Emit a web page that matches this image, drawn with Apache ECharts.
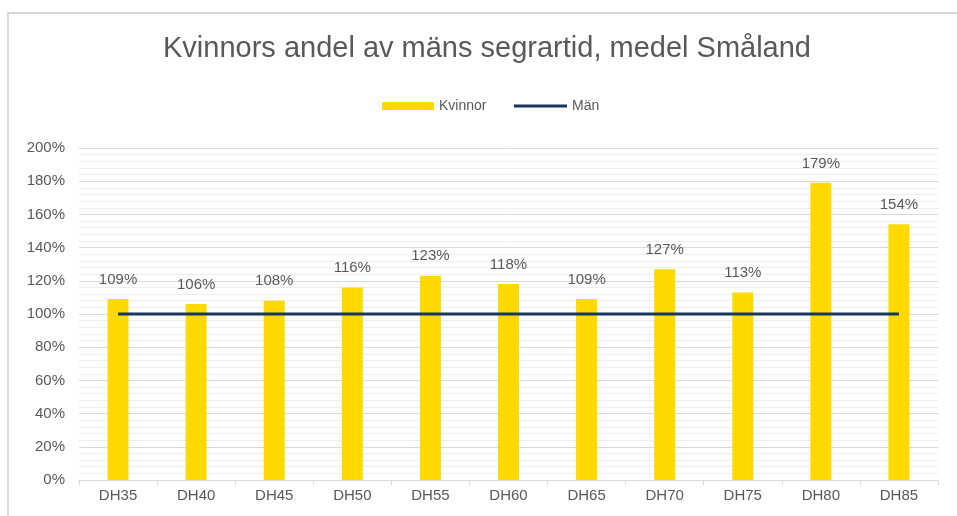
<!DOCTYPE html>
<html>
<head>
<meta charset="utf-8">
<script src="https://cdn.jsdelivr.net/npm/echarts@6/dist/echarts.min.js"></script>
<style>
  html, body { margin: 0; padding: 0; background: #fff; }
  #chart { width: 957px; height: 516px; }
  #frame { position: absolute; left: 7px; top: 12px; right: 0; bottom: 0;
           border-left: 2px solid #d9d9d9; border-top: 2px solid #d9d9d9; pointer-events: none; }
</style>
</head>
<body>
<div id="chart"></div>
<div id="frame"></div>
<script>
const categories = ['DH35', 'DH40', 'DH45', 'DH50', 'DH55', 'DH60', 'DH65', 'DH70', 'DH75', 'DH80', 'DH85'];
const kvinnor = [109, 106, 108, 116, 123, 118, 109, 127, 113, 179, 154];
const man = [100, 100, 100, 100, 100, 100, 100, 100, 100, 100, 100];

const font = '"Liberation Sans", Arial, sans-serif';
const textColor = '#595959';
const manColor = '#17375e';

const chart = echarts.init(document.getElementById('chart'));
chart.setOption({
  animation: false,
  textStyle: { fontFamily: font },
  title: {
    text: 'Kvinnors andel av mäns segrartid, medel Småland',
    left: 158,
    top: 29,
    textStyle: { fontSize: 29, fontWeight: 'normal', color: textColor, fontFamily: font }
  },
  // two legends so the line icon can be thinner than the bar icon
  legend: [
    {
      left: 377,
      top: 94,
      itemWidth: 52,
      itemHeight: 8,
      itemGap: 0,
      textStyle: { fontSize: 14, color: textColor },
      data: [{ name: 'Kvinnor', icon: 'rect' }]
    },
    {
      left: 509,
      top: 94,
      itemWidth: 53,
      itemHeight: 3,
      textStyle: { fontSize: 14, color: textColor },
      data: [{ name: 'Män', icon: 'rect', itemStyle: { color: manColor } }]
    }
  ],
  grid: { left: 79, right: 19, top: 148, bottom: 36 },
  xAxis: {
    type: 'category',
    data: categories,
    axisLine: { lineStyle: { color: '#d9d9d9', width: 1 } },
    axisTick: { show: true, length: 5, lineStyle: { color: '#d9d9d9' } },
    axisLabel: { color: textColor, fontSize: 15, margin: 8 }
  },
  yAxis: {
    type: 'value',
    min: 0,
    max: 200,
    interval: 20,
    axisLine: { show: false },
    axisTick: { show: false },
    axisLabel: { color: textColor, fontSize: 15, formatter: '{value}%', margin: 14 },
    splitLine: { lineStyle: { color: '#d9d9d9', width: 1 } },
    minorTick: { show: false, splitNumber: 5 },
    minorSplitLine: { show: true, lineStyle: { color: '#eeeeee', width: 1 } }
  },
  series: [
    {
      name: 'Kvinnor',
      type: 'bar',
      data: kvinnor,
      barWidth: 21,
      itemStyle: { color: '#ffda00' },
      label: {
        show: true,
        position: 'top',
        distance: 12,
        formatter: '{c}%',
        color: textColor,
        fontSize: 15
      }
    },
    {
      name: 'Män',
      type: 'line',
      data: man,
      symbol: 'none',
      lineStyle: { color: manColor, width: 3 },
      itemStyle: { color: manColor }
    }
  ]
});
</script>
</body>
</html>
